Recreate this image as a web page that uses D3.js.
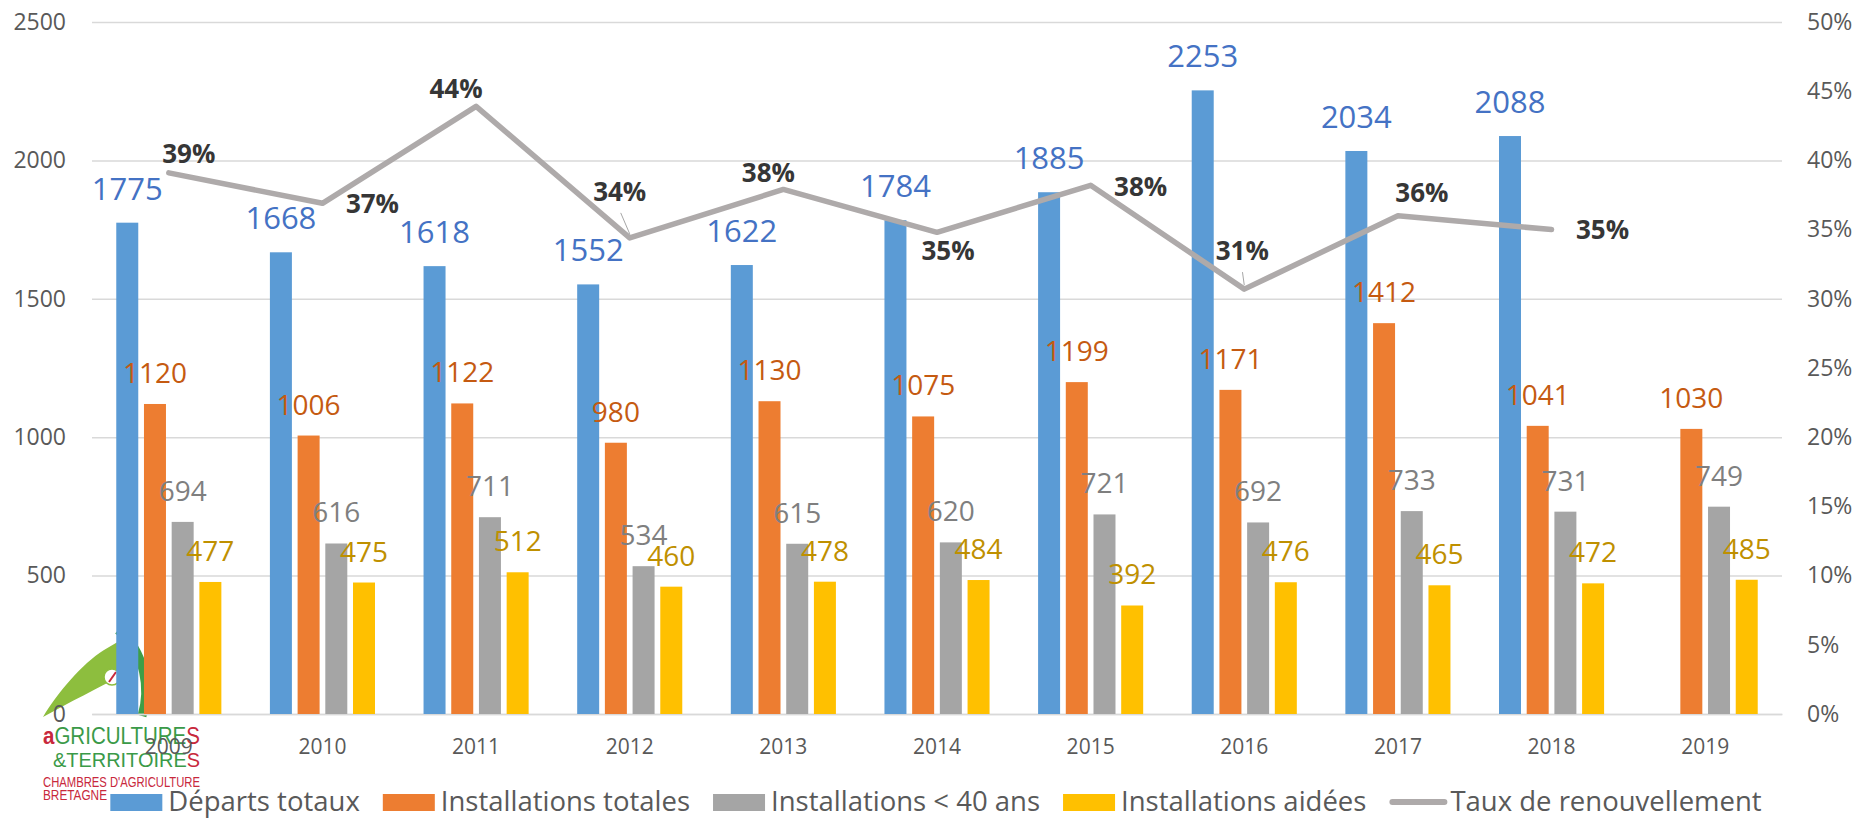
<!DOCTYPE html>
<html>
<head>
<meta charset="utf-8">
<script src="https://cdn.jsdelivr.net/npm/d3@7"></script>
<style>
  html, body { margin: 0; padding: 0; background: #ffffff; }
  svg { display: block; font-family: "Open Sans", sans-serif; }
</style>
</head>
<body>
<svg id="chart" width="1857" height="819"></svg>
<script>
// ---------- DATA ----------
const years = ["2009","2010","2011","2012","2013","2014","2015","2016","2017","2018","2019"];
const departsTotaux = [1775,1668,1618,1552,1622,1784,1885,2253,2034,2088,null];
const installationsTotales = [1120,1006,1122,980,1130,1075,1199,1171,1412,1041,1030];
const installationsMoins40 = [694,616,711,534,615,620,721,692,733,731,749];
const installationsAidees = [477,475,512,460,478,484,392,476,465,472,485];
const tauxRenouvellement = [0.391,0.369,0.439,0.344,0.379,0.348,0.382,0.307,0.360,0.350,null];
const leftTicks = [0,500,1000,1500,2000,2500];
const rightTicks = [0,0.05,0.10,0.15,0.20,0.25,0.30,0.35,0.40,0.45,0.50];
const seriesNames = ["Départs totaux","Installations totales","Installations < 40 ans","Installations aidées"];
const lineName = "Taux de renouvellement";

// ---------- LAYOUT / STYLE ----------
const plot = { left: 92, right: 1782, top: 22, bottom: 714 };
const barColors = ["#5B9BD5","#ED7D31","#A5A5A5","#FFC000"];
const labelColors = ["#4472C4","#C55A11","#7F7F7F","#BF9000"];
const lineColor = "#AEAAAA";
// manual placement of percentage labels (offset of label centre / baseline from the point)
const pctLabelOffsets = [
  {dx: 20, dy: -10}, {dx: 50, dy: 10}, {dx: -20, dy: -8}, {dx: -10, dy: -37, leader: true},
  {dx: -15, dy: -7}, {dx: 11, dy: 28}, {dx: 50, dy: 11}, {dx: -2, dy: -29, leader: true},
  {dx: 24, dy: -14}, {dx: 51, dy: 9}, null
];

const svg = d3.select("#chart");

// ---------- LOGO (background) ----------
const logo = svg.append("g").attr("class", "logo");
logo.append("path")
  .attr("d", "M43,717 C58,692 82,664 104,650 L121,640 L121,676 C98,688 70,702 43,717 Z")
  .attr("fill", "#8DBE3E");
logo.append("circle").attr("cx", 112).attr("cy", 677).attr("r", 8)
  .attr("fill", "#ffffff").attr("stroke", "#8DBE3E").attr("stroke-width", 1.5);
logo.append("path").attr("d", "M109,682 L116,672").attr("stroke", "#C8283C").attr("stroke-width", 2);
logo.append("path")
  .attr("d", "M118,630 C146,652 150,690 142,716")
  .attr("fill", "none").attr("stroke", "#3E9E47").attr("stroke-width", 9);
const logoText = logo.append("g").style("font-family", "'Liberation Sans', Arial, sans-serif");
const l1 = logoText.append("text").attr("x", 43).attr("y", 744)
  .attr("textLength", 157).attr("lengthAdjust", "spacingAndGlyphs")
  .style("font-size", "23px");
l1.append("tspan").attr("fill", "#C8283C").style("font-weight", "bold").text("a");
l1.append("tspan").attr("fill", "#3A9A48").text("GRICULTURE");
l1.append("tspan").attr("fill", "#C8283C").text("S");
const l2 = logoText.append("text").attr("x", 53).attr("y", 767)
  .attr("textLength", 147).attr("lengthAdjust", "spacingAndGlyphs")
  .style("font-size", "20px");
l2.append("tspan").attr("fill", "#3A9A48").text("&TERRITOIRE");
l2.append("tspan").attr("fill", "#C8283C").text("S");
logoText.append("text").attr("x", 43).attr("y", 787)
  .attr("textLength", 157).attr("lengthAdjust", "spacingAndGlyphs")
  .style("font-size", "14.5px").attr("fill", "#C8283C").text("CHAMBRES D'AGRICULTURE");
logoText.append("text").attr("x", 43).attr("y", 800)
  .attr("textLength", 64).attr("lengthAdjust", "spacingAndGlyphs")
  .style("font-size", "15px").attr("fill", "#C8283C").text("BRETAGNE");

// ---------- SCALES ----------
const x0 = d3.scaleBand().domain(years).range([plot.left, plot.right]).padding(0);
const x1 = d3.scaleBand().domain(d3.range(4)).range([-55.4, 55.4]).paddingInner(0.206).paddingOuter(0.103);
const y = d3.scaleLinear().domain([0, 2500]).range([plot.bottom, plot.top]);
const yR = d3.scaleLinear().domain([0, 0.5]).range([plot.bottom, plot.top]);
const cx = yr => x0(yr) + x0.bandwidth() / 2;

// ---------- GRIDLINES ----------
const grid = svg.append("g").attr("transform", `translate(${plot.left},0)`)
  .call(d3.axisLeft(y).tickValues(leftTicks).tickSize(-(plot.right - plot.left)).tickFormat(""));
grid.select(".domain").remove();
grid.selectAll("line").attr("stroke", "#D9D9D9").attr("stroke-width", 1.5);

// ---------- AXES ----------
const axL = svg.append("g").attr("transform", `translate(${plot.left},0)`)
  .call(d3.axisLeft(y).tickValues(leftTicks).tickSize(0).tickPadding(26).tickFormat(d3.format("d")));
axL.select(".domain").remove();
axL.selectAll("text").attr("fill", "#595959").style("font-size", "23px").style("font-family", "'Open Sans', sans-serif");

const axR = svg.append("g").attr("transform", `translate(${plot.right},0)`)
  .call(d3.axisRight(yR).tickValues(rightTicks).tickSize(0).tickPadding(25).tickFormat(d3.format(".0%")));
axR.select(".domain").remove();
axR.selectAll("text").attr("fill", "#595959").style("font-size", "23px").style("font-family", "'Open Sans', sans-serif");

const axB = svg.append("g").attr("transform", `translate(0,${plot.bottom})`)
  .call(d3.axisBottom(x0).tickSize(0).tickPadding(25));
axB.select(".domain").attr("stroke", "#D9D9D9").attr("stroke-width", 1.5);
axB.selectAll("text").attr("fill", "#595959").style("font-size", "21px").style("font-family", "'Open Sans', sans-serif");

// ---------- BARS ----------
const seriesData = [departsTotaux, installationsTotales, installationsMoins40, installationsAidees];
seriesData.forEach((vals, si) => {
  const g = svg.append("g").attr("class", "series-" + si);
  const pts = years.map((yr, i) => ({ yr, v: vals[i] })).filter(d => d.v != null);
  g.selectAll("rect").data(pts).join("rect")
    .attr("x", d => cx(d.yr) + x1(si))
    .attr("width", x1.bandwidth())
    .attr("y", d => y(d.v))
    .attr("height", d => y(0) - y(d.v))
    .attr("fill", barColors[si]);
});

// ---------- BAR LABELS ----------
seriesData.forEach((vals, si) => {
  const g = svg.append("g").attr("class", "labels-" + si);
  const pts = years.map((yr, i) => ({ yr, v: vals[i] })).filter(d => d.v != null);
  g.selectAll("text").data(pts).join("text")
    .attr("x", d => cx(d.yr) + x1(si) + x1.bandwidth() / 2)
    .attr("y", d => y(d.v) - (si === 0 ? 23 : 21))
    .attr("text-anchor", "middle")
    .attr("fill", labelColors[si])
    .style("font-size", si === 0 ? "31px" : "28px")
    .text(d => d.v);
});

// ---------- LINE ----------
const linePts = years.map((yr, i) => ({ yr, v: tauxRenouvellement[i], i })).filter(d => d.v != null);
const lineGen = d3.line().x(d => cx(d.yr)).y(d => yR(d.v));
svg.append("path").datum(linePts)
  .attr("d", lineGen)
  .attr("fill", "none").attr("stroke", lineColor).attr("stroke-width", 5.5)
  .attr("stroke-linejoin", "round").attr("stroke-linecap", "round");

// leader lines + percent labels
const pctG = svg.append("g");
linePts.forEach(d => {
  const o = pctLabelOffsets[d.i];
  if (!o) return;
  const px = cx(d.yr), py = yR(d.v);
  if (o.leader) {
    pctG.append("line")
      .attr("x1", px + o.dx * 0.9).attr("y1", py + o.dy + 12)
      .attr("x2", px).attr("y2", py - 4)
      .attr("stroke", "#A6A6A6").attr("stroke-width", 1);
  }
  pctG.append("text")
    .attr("x", px + o.dx).attr("y", py + o.dy)
    .attr("text-anchor", "middle")
    .attr("fill", "#363636")
    .style("font-size", "26px").style("font-weight", "bold")
    .text(d3.format(".0%")(d.v));
});

// ---------- LEGEND ----------
const legendBase = 811;
const legend = svg.append("g").attr("class", "legend");
const items = seriesNames.map((n, i) => ({ name: n, color: barColors[i], type: "rect" }))
  .concat([{ name: lineName, color: lineColor, type: "line" }]);
const swW = 52, swGap = 6, itemGap = 23;
let cursor = 0;
items.forEach(it => {
  const g = legend.append("g");
  if (it.type === "rect") {
    g.append("rect").attr("x", 0).attr("y", legendBase - 17).attr("width", swW).attr("height", 17).attr("fill", it.color);
  } else {
    g.append("line").attr("x1", 3).attr("x2", swW + 3).attr("y1", legendBase - 9).attr("y2", legendBase - 9)
      .attr("stroke", it.color).attr("stroke-width", 6).attr("stroke-linecap", "round");
  }
  const tx = swW + swGap + (it.type === "line" ? 3 : 0);
  const t = g.append("text").attr("x", tx).attr("y", legendBase)
    .attr("fill", "#595959").style("font-size", "27.5px").text(it.name);
  const w = tx + t.node().getComputedTextLength();
  g.attr("transform", `translate(${cursor},0)`);
  cursor += w + itemGap;
});
const totalW = cursor - itemGap;
legend.attr("transform", `translate(${936 - totalW / 2},0)`);
</script>
</body>
</html>
